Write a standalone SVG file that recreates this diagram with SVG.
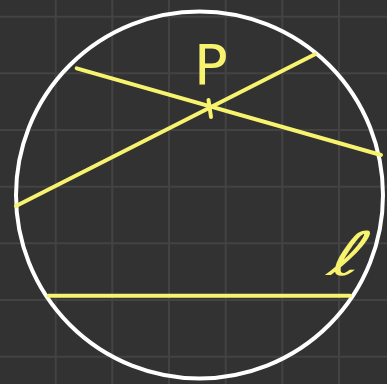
<svg xmlns="http://www.w3.org/2000/svg" width="387" height="384" viewBox="0 0 387 384">
<style>
.grid{stroke:#434343;stroke-width:2}
.y{stroke:#f7f36f;stroke-width:4;stroke-linecap:round;fill:none}
.lbl{fill:#f7f36f;font-family:"DejaVu Sans","Liberation Sans",sans-serif}
</style>
<rect width="387" height="384" fill="#323232"/>
<g id="grid" class="grid">
<line x1="55.7" y1="0" x2="55.7" y2="384"/>
<line x1="112.3" y1="0" x2="112.3" y2="384"/>
<line x1="169" y1="0" x2="169" y2="384"/>
<line x1="225.7" y1="0" x2="225.7" y2="384"/>
<line x1="282.3" y1="0" x2="282.3" y2="384"/>
<line x1="339" y1="0" x2="339" y2="384"/>
<line x1="0" y1="16.7" x2="387" y2="16.7"/>
<line x1="0" y1="73.3" x2="387" y2="73.3"/>
<line x1="0" y1="130" x2="387" y2="130"/>
<line x1="0" y1="186.7" x2="387" y2="186.7"/>
<line x1="0" y1="243.3" x2="387" y2="243.3"/>
<line x1="0" y1="300" x2="387" y2="300"/>
<line x1="0" y1="356.7" x2="387" y2="356.7"/>
</g>
<g id="circle">
<circle cx="199.5" cy="195" r="183.5" fill="none" stroke="#ffffff" stroke-width="4"/>
</g>
<g id="lines" class="y">
<line x1="76.7" y1="68.3" x2="381" y2="155"/>
<line x1="16" y1="206" x2="315" y2="54.3"/>
<line x1="48.3" y1="295.7" x2="350" y2="295.7"/>
<line x1="208.5" y1="100" x2="211" y2="117"/>
</g>
<g id="labels">
<text class="lbl" x="194" y="84" font-size="56">P</text>
<text class="lbl" transform="translate(326,275) skewX(-22) scale(1.3,1)" font-size="60">ℓ</text>
</g>
</svg>
